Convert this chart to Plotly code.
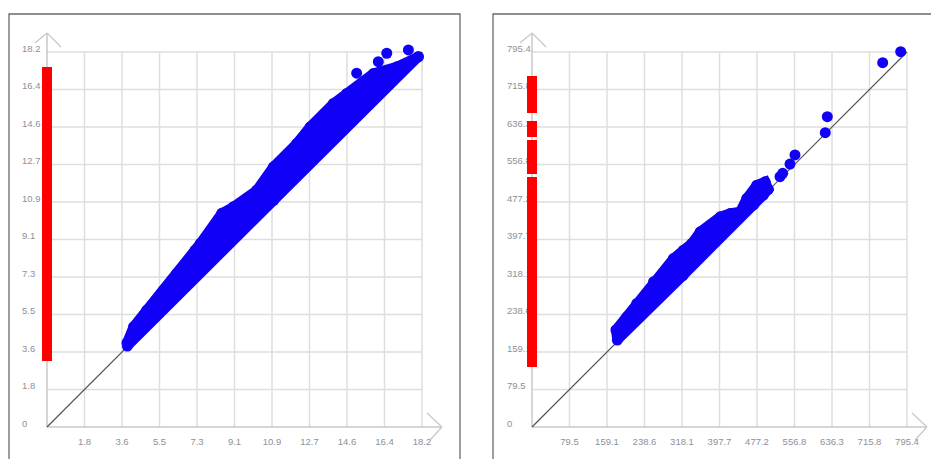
import plotly.graph_objects as go

# ---------------- data ----------------
# Left panel
L_MAX = 18.2
L_TICK_LABELS = ["0", "1.8", "3.6", "5.5", "7.3", "9.1", "10.9", "12.7", "14.6", "16.4", "18.2"]
# upper envelope of the dense point cloud (bottom-left -> top-right)
L_UPPER_X = [3.88, 4.20, 4.84, 5.65, 6.30, 7.19, 7.44, 8.48, 9.05, 10.18, 10.99, 12.12, 12.77, 13.90, 14.55, 15.85, 16.98, 18.02]
L_UPPER_Y = [4.08, 4.86, 5.67, 6.64, 7.45, 8.58, 8.91, 10.37, 10.69, 11.49, 12.63, 13.76, 14.57, 15.70, 16.19, 17.16, 17.48, 17.97]
# lower envelope (top-right -> bottom-left), lies on the diagonal
L_LOWER_X = [18.02, 11.00, 3.90]
L_LOWER_Y = [17.97, 11.00, 3.93]
L_OUT_X = [15.03, 16.08, 16.49, 17.54]
L_OUT_Y = [17.17, 17.73, 18.14, 18.30]
L_BAR_LO = [3.20]
L_BAR_HI = [17.47]

# Right panel
R_MAX = 795.4
R_TICK_LABELS = ["0", "79.5", "159.1", "238.6", "318.1", "397.7", "477.2", "556.8", "636.3", "715.8", "795.4"]
R_UPPER_X = [178.0, 201.1, 222.3, 257.7, 278.9, 300.1, 321.3, 339.0, 356.8, 378.0, 399.2, 420.4, 441.6, 455.6, 476.8, 494.6, 501.3]
R_UPPER_Y = [206.0, 233.7, 262.0, 308.0, 325.6, 357.4, 375.0, 389.2, 414.0, 428.0, 445.9, 452.9, 456.5, 484.7, 512.9, 520.1, 504.2]
R_LOWER_X = [490.7, 470.0, 320.0, 181.0]
R_LOWER_Y = [492.1, 471.0, 321.0, 184.5]
R_OUT_X = [526.0, 531.7, 547.2, 557.8, 622.0, 626.4, 743.8, 782.0]
R_OUT_Y = [530.9, 538.1, 557.8, 577.0, 624.2, 658.2, 772.8, 796.0]
R_BAR_LO = [127.3, 536.6, 615.1, 666.0]
R_BAR_HI = [530.3, 608.7, 649.1, 744.5]

# ---------------- layout constants (pixels) ----------------
W, H = 931, 459
PLOT_PX = 375          # size of the gridded square
SPLIT = 466            # pixel column separating the two panels
BLUE = "#1000f8"
RED = "#ff0000"
GRID = "#dedede"
AXIS = "#c9c9c9"
LABEL = "#8d9099"
FONT = "Liberation Sans"

fig = go.Figure()
shapes = []


def panel(xa, ya, vmax, labels, ux, uy, lx, ly, ox, oy, blo, bhi,
          origin_x, dom_px, border_px):
    u = vmax / PLOT_PX  # data units per pixel
    oy_px = 427
    x0, x1 = dom_px
    xr = [(x0 - origin_x) * u, (x1 - origin_x) * u]
    yr = [(oy_px - H) * u, oy_px * u]
    axkw = dict(visible=False, fixedrange=True)
    fig.layout[xa.replace("x", "xaxis")] = dict(domain=[x0 / W, x1 / W], range=xr, anchor=ya, **axkw)
    fig.layout[ya.replace("y", "yaxis")] = dict(domain=[0, 1], range=yr, anchor=xa, **axkw)

    n = len(labels) - 1
    ticks = [vmax * k / n for k in range(n + 1)]
    ref = dict(xref=xa, yref=ya, layer="below")
    # grid
    for t in ticks[1:]:
        shapes.append(dict(type="line", x0=t, x1=t, y0=0, y1=vmax, line=dict(color=GRID, width=1.5), **ref))
        shapes.append(dict(type="line", x0=0, x1=vmax, y0=t, y1=t, line=dict(color=GRID, width=1.5), **ref))
    # axes with open arrow heads
    tip = (PLOT_PX + 20) * u
    shapes.append(dict(type="line", x0=0, x1=tip, y0=0, y1=0, line=dict(color=AXIS, width=1.5), **ref))
    shapes.append(dict(type="line", x0=0, x1=0, y0=0, y1=tip - 1 * u, line=dict(color=AXIS, width=1.5), **ref))
    for dx, dy in [(-15, 14), (-12, -13)]:
        shapes.append(dict(type="line", x0=tip, y0=0, x1=tip + dx * u, y1=dy * u,
                           line=dict(color=AXIS, width=1.3), **ref))
    ytip = tip - 1 * u
    for dx, dy in [(-12, -10), (14, -14)]:
        shapes.append(dict(type="line", x0=0, y0=ytip, x1=dx * u, y1=ytip + dy * u,
                           line=dict(color=AXIS, width=1.3), **ref))
    # panel border
    bx0, bx1 = border_px
    shapes.append(dict(type="rect", xref="paper", yref="paper", x0=bx0 / W, x1=bx1 / W,
                       y0=-0.2, y1=1 - 14 / H, line=dict(color="#6a6a6a", width=1.3),
                       fillcolor="rgba(0,0,0,0)", layer="above"))

    # diagonal reference line
    fig.add_trace(go.Scatter(x=[0, vmax], y=[0, vmax], mode="lines", xaxis=xa, yaxis=ya,
                             line=dict(color="#555555", width=1.2), hoverinfo="skip"))
    # dense cloud
    px_ = ux + lx + [ux[0]]
    py_ = uy + ly + [uy[0]]
    fig.add_trace(go.Scatter(x=px_, y=py_, mode="lines", fill="toself", fillcolor=BLUE,
                             line=dict(color=BLUE, width=10), xaxis=xa, yaxis=ya, hoverinfo="skip"))
    fig.add_trace(go.Scatter(x=ux + lx + ox, y=uy + ly + oy, mode="markers", xaxis=xa, yaxis=ya,
                             marker=dict(color=BLUE, size=11, line=dict(width=0)), hoverinfo="skip"))
    # tick labels
    fig.add_trace(go.Scatter(x=[-25 * u] * len(ticks),
                             y=[t + 2.5 * u for t in ticks], text=labels, mode="text",
                             textposition="middle right", xaxis=xa, yaxis=ya,
                             textfont=dict(family=FONT, size=9.5, color=LABEL), hoverinfo="skip"))
    fig.add_trace(go.Scatter(x=ticks[1:], y=[-16 * u] * n, text=labels[1:], mode="text",
                             textposition="middle center", xaxis=xa, yaxis=ya,
                             textfont=dict(family=FONT, size=9.5, color=LABEL), hoverinfo="skip"))
    # red bar
    bx, by = [], []
    for lo, hi in zip(blo, bhi):
        bx += [0, 0, None]
        by += [lo, hi, None]
    fig.add_trace(go.Scatter(x=bx, y=by, mode="lines", line=dict(color=RED, width=10),
                             xaxis=xa, yaxis=ya, hoverinfo="skip"))


panel("x", "y", L_MAX, L_TICK_LABELS, L_UPPER_X, L_UPPER_Y, L_LOWER_X, L_LOWER_Y,
      L_OUT_X, L_OUT_Y, L_BAR_LO, L_BAR_HI, 47, (0, SPLIT), (9, 460))
panel("x2", "y2", R_MAX, R_TICK_LABELS, R_UPPER_X, R_UPPER_Y, R_LOWER_X, R_LOWER_Y,
      R_OUT_X, R_OUT_Y, R_BAR_LO, R_BAR_HI, 532, (SPLIT, W), (493, W + 20))

fig.update_layout(width=W, height=H, margin=dict(l=0, r=0, t=0, b=0),
                  paper_bgcolor="white", plot_bgcolor="white", showlegend=False,
                  shapes=shapes)

fig.write_html("out.html", config={"displayModeBar": False, "staticPlot": True},
               post_script="document.body.style.margin='0';")
